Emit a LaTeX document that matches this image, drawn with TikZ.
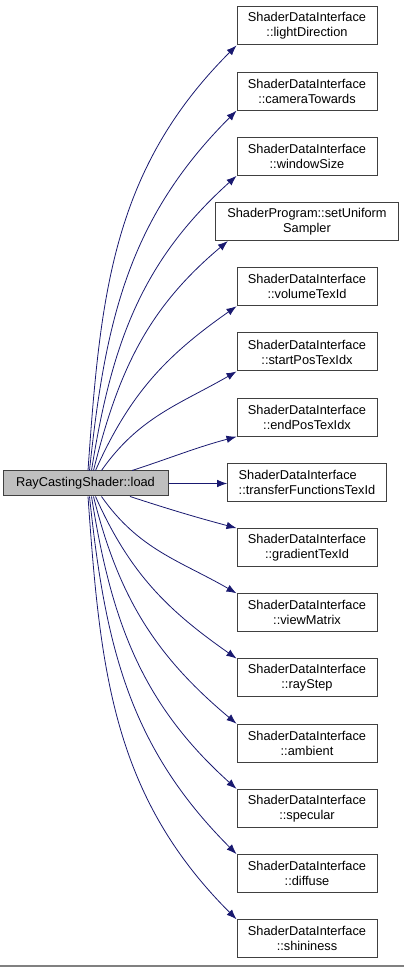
\documentclass[tikz,border=0pt]{standalone}
\usepackage{fontspec}
\setmainfont{Liberation Sans}
\usetikzlibrary{arrows.meta,positioning}
\definecolor{edgeblue}{RGB}{25,25,112}
\definecolor{boxline}{RGB}{64,64,64}
\definecolor{rootfill}{RGB}{191,191,191}
\definecolor{rulegrey}{RGB}{128,128,128}

\begin{document}
\begin{tikzpicture}[x=1pt,y=1pt,node distance=26.2pt,
  every node/.style={font=\fontsize{12.8}{15}\selectfont},
  fn/.style={draw=boxline,fill=white,line width=1pt,align=center,inner xsep=7pt,inner ysep=2pt,minimum width=140pt,minimum height=38pt},
  root/.style={draw=boxline,fill=rootfill,line width=1pt,inner xsep=6pt,minimum width=165pt,minimum height=25pt},
  ar/.style={-{Latex[length=10pt,width=7.5pt]},edgeblue,line width=0.8pt}]
\useasboundingbox (0,0) rectangle (404,967);
\node[root] (src) at (85.5,483.5) {RayCastingShader::load};
\node[fn] (t1) at (307,941) {ShaderDataInterface\\::lightDirection};
\node[fn,below=of t1] (t2) {ShaderDataInterface\\::cameraTowards};
\node[fn,below=of t2] (t3) {ShaderDataInterface\\::windowSize};
\node[fn,below=of t3,inner xsep=12pt] (t4) {ShaderProgram::setUniform\\Sampler};
\node[fn,below=of t4] (t5) {ShaderDataInterface\\::volumeTexId};
\node[fn,below=of t5] (t6) {ShaderDataInterface\\::startPosTexIdx};
\node[fn,below=of t6] (t7) {ShaderDataInterface\\::endPosTexIdx};
\node[fn,below=of t7,align=left,inner xsep=11pt] (t8) {ShaderDataInterface\\::transferFunctionsTexId};
\node[fn,below=of t8] (t9) {ShaderDataInterface\\::gradientTexId};
\node[fn,below=of t9] (t10) {ShaderDataInterface\\::viewMatrix};
\node[fn,below=of t10] (t11) {ShaderDataInterface\\::rayStep};
\node[fn,below=of t11] (t12) {ShaderDataInterface\\::ambient};
\node[fn,below=of t12] (t13) {ShaderDataInterface\\::specular};
\node[fn,below=of t13] (t14) {ShaderDataInterface\\::diffuse};
\node[fn,below=of t14] (t15) {ShaderDataInterface\\::shininess};
% calls above the caller
\foreach \t/\sx/\ex/\o/\i in {t1/2.5/0/86/225,t2/4/0/84/225,t3/6/0/81/222,t4/8/13/76/220,t5/10/0/66/215,t6/16/0/55/210,t7/46.5/0/18/195}
  \draw[ar] ([xshift=\sx pt]src.north) to[out=\o,in=\i] ([xshift=\ex pt]\t.south west);
\draw[ar] (src.east) -- (t8.west |- src.east);
% calls below the caller
\foreach \t/\sx/\o/\i in {t9/44.5/-18/165,t10/16/-55/150,t11/10/-66/145,t12/8/-76/140,t13/6/-81/138,t14/4/-84/135,t15/2.5/-86/135}
  \draw[ar] ([xshift=\sx pt]src.south) to[out=\o,in=\i] (\t.north west);
\draw[rulegrey,line width=1.2pt] (0,1) -- (404,1);
\end{tikzpicture}
\end{document}
